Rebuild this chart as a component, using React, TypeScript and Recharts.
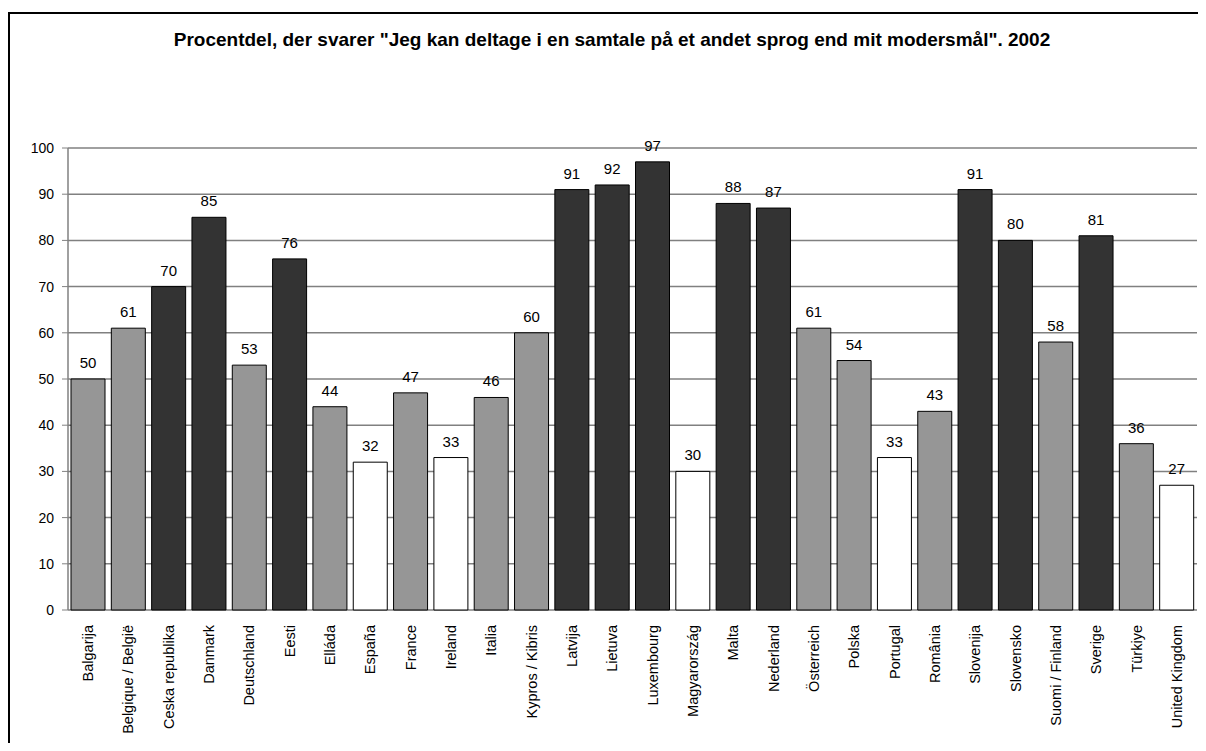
import { BarChart, Bar, Cell, XAxis, YAxis, CartesianGrid, LabelList } from 'recharts'

const TITLE = 'Procentdel, der svarer "Jeg kan deltage i en samtale på et andet sprog end mit modersmål". 2002'

const countries = [
  'Balgarija', 'Belgique / België', 'Ceska republika', 'Danmark', 'Deutschland', 'Eesti', 'Elláda',
  'España', 'France', 'Ireland', 'Italia', 'Kypros / Kibris', 'Latvija', 'Lietuva', 'Luxembourg',
  'Magyarország', 'Malta', 'Nederland', 'Österreich', 'Polska', 'Portugal', 'România', 'Slovenija',
  'Slovensko', 'Suomi / Finland', 'Sverige', 'Türkiye', 'United Kingdom',
]
const shares = [50, 61, 70, 85, 53, 76, 44, 32, 47, 33, 46, 60, 91, 92, 97, 30, 88, 87, 61, 54, 33, 43, 91, 80, 58, 81, 36, 27]
// colour group per country: h = high (dark), m = middle (grey), l = low (white)
const groups = ['m', 'm', 'h', 'h', 'm', 'h', 'm', 'l', 'm', 'l', 'm', 'm', 'h', 'h', 'h', 'l', 'h', 'h', 'm', 'm', 'l', 'm', 'h', 'h', 'm', 'h', 'm', 'l']
const yTicks = [0, 10, 20, 30, 40, 50, 60, 70, 80, 90, 100]

const GROUP_FILL: Record<string, string> = { h: '#333333', m: '#969696', l: '#ffffff' }
const FONT = '"Liberation Sans", Arial, sans-serif'
const GRID = '#808080'

const data = countries.map((name, i) => ({ name, value: shares[i], group: groups[i] }))
const boundaries = [...countries.map((_, i) => i), countries.length]

function CategoryTick({ x, y, payload }: any) {
  return (
    <text
      x={x}
      y={y}
      transform={`rotate(-90 ${x} ${y})`}
      textAnchor="end"
      dominantBaseline="central"
      fontSize={14.5}
      fontFamily={FONT}
      fill="#000"
    >
      {payload.value}
    </text>
  )
}

export default function App() {
  return (
    <div style={{ position: 'relative', width: 1206, height: 751, overflow: 'hidden', fontFamily: FONT, margin: -8 }}>
      <div
        style={{
          position: 'absolute', left: 8, top: 12, width: 1198, height: 739,
          borderTop: '2px solid #000', borderLeft: '2px solid #000', boxSizing: 'border-box',
        }}
      />
      <div
        style={{
          position: 'absolute', left: 18, top: 29, width: 1188, textAlign: 'center',
          fontSize: 19, fontWeight: 'bold', color: '#000',
        }}
      >
        {TITLE}
      </div>
      <div style={{ position: 'absolute', left: 0, top: 0 }}>
        <BarChart
          width={1206}
          height={751}
          data={data}
          margin={{ top: 148, right: 9, left: 28, bottom: 21 }}
          barCategoryGap={3}
        >
          <CartesianGrid xAxisId="cat" vertical={false} stroke={GRID} strokeWidth={1.5} />
          <XAxis
            xAxisId="ticks"
            type="number"
            domain={[0, countries.length]}
            ticks={boundaries}
            tick={false}
            tickSize={6}
            height={0}
            axisLine={{ stroke: '#404040' }}
            tickLine={{ stroke: '#404040' }}
            allowDataOverflow
          />
          <XAxis
            xAxisId="cat"
            dataKey="name"
            interval={0}
            height={120}
            axisLine={false}
            tickLine={false}
            tickSize={0}
            tickMargin={15}
            tick={<CategoryTick />}
          />
          <YAxis
            domain={[0, 100]}
            ticks={yTicks}
            width={40}
            tickSize={6}
            tickMargin={8}
            axisLine={{ stroke: GRID, strokeWidth: 1.5 }}
            tickLine={{ stroke: GRID }}
            tick={{ fontSize: 14, fill: '#000', fontFamily: FONT }}
          />
          <Bar xAxisId="cat" dataKey="value" stroke="#000" strokeWidth={1} isAnimationActive={false}>
            {data.map((d) => (
              <Cell key={d.name} fill={GROUP_FILL[d.group]} />
            ))}
            <LabelList dataKey="value" position="top" offset={11} fontSize={15} fill="#000" fontFamily={FONT} />
          </Bar>
        </BarChart>
      </div>
    </div>
  )
}
